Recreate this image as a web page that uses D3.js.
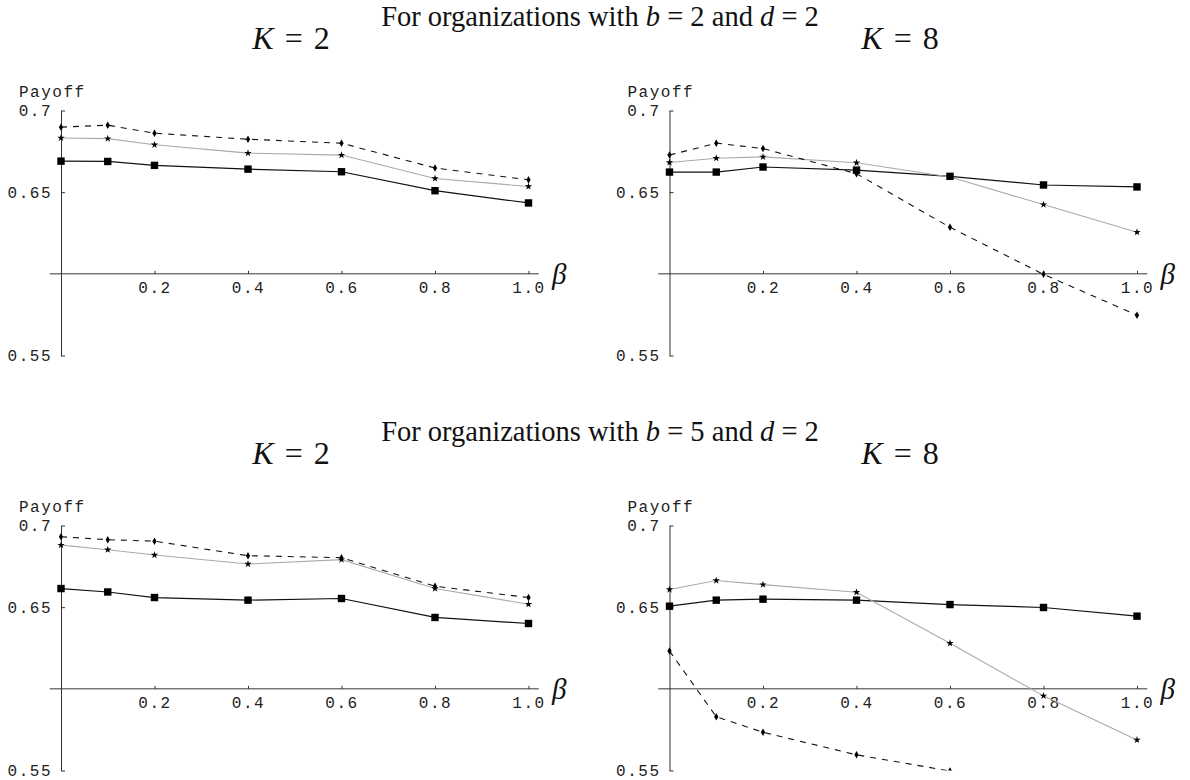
<!DOCTYPE html>
<html>
<head>
<meta charset="utf-8">
<script src="https://cdn.jsdelivr.net/npm/d3@7"></script>
<style>
  body { margin: 0; background: #fff; }
  .tick text, .lab { font-family: "Courier New", "Liberation Mono", monospace; font-size: 16px; letter-spacing: 1.5px; fill: #222; }
  .ttl { font-family: "Liberation Serif", "DejaVu Serif", serif; fill: #111; }
</style>
</head>
<body>
<svg id="chart" width="1190" height="780"></svg>
<script>
// beta values along the x axis
var betas = [0, 0.1, 0.2, 0.4, 0.6, 0.8, 1.0];
var xTicks = [0.2, 0.4, 0.6, 0.8, 1.0];
var yTicks = [0.55, 0.65, 0.7];

// b = 2, d = 2, K = 2
var b2K2_square  = [0.669, 0.6688, 0.6664, 0.6641, 0.6625, 0.6509, 0.6434];
var b2K2_star    = [0.6832, 0.6828, 0.679, 0.6739, 0.6727, 0.6584, 0.6535];
var b2K2_diamond = [0.6898, 0.691, 0.6861, 0.6824, 0.68, 0.6648, 0.6576];

// b = 2, d = 2, K = 8
var b2K8_square  = [0.6623, 0.6623, 0.6654, 0.6635, 0.6597, 0.6544, 0.6532];
var b2K8_star    = [0.6682, 0.6708, 0.6716, 0.668, 0.6593, 0.6424, 0.6255];
var b2K8_diamond = [0.6727, 0.68, 0.6767, 0.6613, 0.6285, 0.5997, 0.5747];

// b = 5, d = 2, K = 2
var b5K2_square  = [0.6614, 0.6593, 0.6559, 0.6543, 0.6553, 0.6437, 0.64];
var b5K2_star    = [0.688, 0.6852, 0.6819, 0.6764, 0.6791, 0.6614, 0.6518];
var b5K2_diamond = [0.6931, 0.6913, 0.6904, 0.6815, 0.6803, 0.6628, 0.6559];

// b = 5, d = 2, K = 8 (dashed series runs off the bottom after 0.6)
var b5K8_square  = [0.6506, 0.6543, 0.6549, 0.6543, 0.6516, 0.6498, 0.6445];
var b5K8_star    = [0.6608, 0.6663, 0.6638, 0.6591, 0.6279, 0.5957, 0.5687];
var b5K8_diamond = [0.6232, 0.5829, 0.5734, 0.5596, 0.5497];

var svg = d3.select("#chart");

function title(y, b) {
  var t = svg.append("text").attr("class", "ttl")
      .attr("x", 600).attr("y", y)
      .attr("text-anchor", "middle")
      .style("font-size", "28.5px");
  t.append("tspan").text("For organizations with ");
  t.append("tspan").style("font-style", "italic").text("b");
  t.append("tspan").text(" = " + b + " and ");
  t.append("tspan").style("font-style", "italic").text("d");
  t.append("tspan").text(" = 2");
}

function kLabel(x, y, k) {
  var t = svg.append("text").attr("class", "ttl")
      .attr("x", x).attr("y", y)
      .attr("text-anchor", "middle")
      .style("font-size", "32px");
  t.append("tspan").style("font-style", "italic").text("K");
  t.append("tspan").attr("dx", 11).text("=");
  t.append("tspan").attr("dx", 11).text(k);
}

var clipId = 0;

function panel(left, top, square, star, diamond) {
  var x = d3.scaleLinear().domain([0, 1]).range([left, left + 467.5]);
  var y = d3.scaleLinear().domain([0.55, 0.7]).range([top + 245, top]);
  var g = svg.append("g");

  // x axis line through 0.6
  g.append("line")
      .attr("x1", x(-0.024)).attr("x2", x(1.022))
      .attr("y1", y(0.6)).attr("y2", y(0.6))
      .attr("stroke", "#333").attr("stroke-width", 1);

  var xa = g.append("g")
      .attr("transform", "translate(0," + y(0.6) + ")")
      .call(d3.axisBottom(x).tickValues(xTicks).tickSize(-3).tickPadding(8)
        .tickFormat(d3.format(".1f")));
  xa.select(".domain").remove();
  xa.selectAll(".tick line").attr("stroke", "#333");

  var ya = g.append("g")
      .attr("transform", "translate(" + x(0) + ",0)")
      .call(d3.axisLeft(y).tickValues(yTicks).tickSize(-4).tickSizeOuter(0).tickPadding(9)
        .tickFormat(function(d) { return d === 0.7 ? "0.7" : d3.format(".2f")(d); }));
  ya.select(".domain").attr("stroke", "#333");
  ya.selectAll(".tick line").attr("stroke", "#333");

  g.append("text").attr("class", "lab")
      .attr("x", x(0) - 42).attr("y", y(0.7) - 14)
      .text("Payoff");

  g.append("text").attr("class", "ttl")
      .attr("x", x(1.05)).attr("y", y(0.6) + 10)
      .style("font-size", "29px").style("font-style", "italic")
      .text("β");

  clipId++;
  g.append("clipPath").attr("id", "clip" + clipId)
    .append("rect")
      .attr("x", x(-0.05)).attr("y", y(0.7) - 10)
      .attr("width", x(1.1) - x(-0.05)).attr("height", y(0.55) - y(0.7) + 10);
  var plot = g.append("g").attr("clip-path", "url(#clip" + clipId + ")");

  var line = d3.line()
      .x(function(d, i) { return x(betas[i]); })
      .y(function(d) { return y(d); });

  plot.append("path").datum(square).attr("d", line)
      .attr("fill", "none").attr("stroke", "#111").attr("stroke-width", 1.2);
  plot.append("path").datum(star).attr("d", line)
      .attr("fill", "none").attr("stroke", "#aaa").attr("stroke-width", 1.1);
  plot.append("path").datum(diamond).attr("d", line)
      .attr("fill", "none").attr("stroke", "#111").attr("stroke-width", 1.1)
      .attr("stroke-dasharray", "6,6");

  plot.selectAll(null).data(square).enter().append("rect")
      .attr("x", function(d, i) { return x(betas[i]) - 3.7; })
      .attr("y", function(d) { return y(d) - 3.7; })
      .attr("width", 7.4).attr("height", 7.4)
      .attr("fill", "#000");

  plot.selectAll(null).data(star).enter().append("path")
      .attr("d", d3.symbol().type(d3.symbolStar).size(17))
      .attr("transform", function(d, i) { return "translate(" + x(betas[i]) + "," + y(d) + ")"; })
      .attr("fill", "#000");

  plot.selectAll(null).data(diamond).enter().append("path")
      .attr("d", d3.symbol().type(d3.symbolDiamond).size(16))
      .attr("transform", function(d, i) { return "translate(" + x(betas[i]) + "," + y(d) + ")"; })
      .attr("fill", "#000");
}

title(26, 2);
kLabel(291, 49, 2);
kLabel(900, 49, 8);
panel(61, 110.5, b2K2_square, b2K2_star, b2K2_diamond);
panel(669.5, 110.5, b2K8_square, b2K8_star, b2K8_diamond);

title(441, 5);
kLabel(291, 464, 2);
kLabel(900, 464, 8);
panel(61, 525.5, b5K2_square, b5K2_star, b5K2_diamond);
panel(669.5, 525.5, b5K8_square, b5K8_star, b5K8_diamond);
</script>
</body>
</html>
